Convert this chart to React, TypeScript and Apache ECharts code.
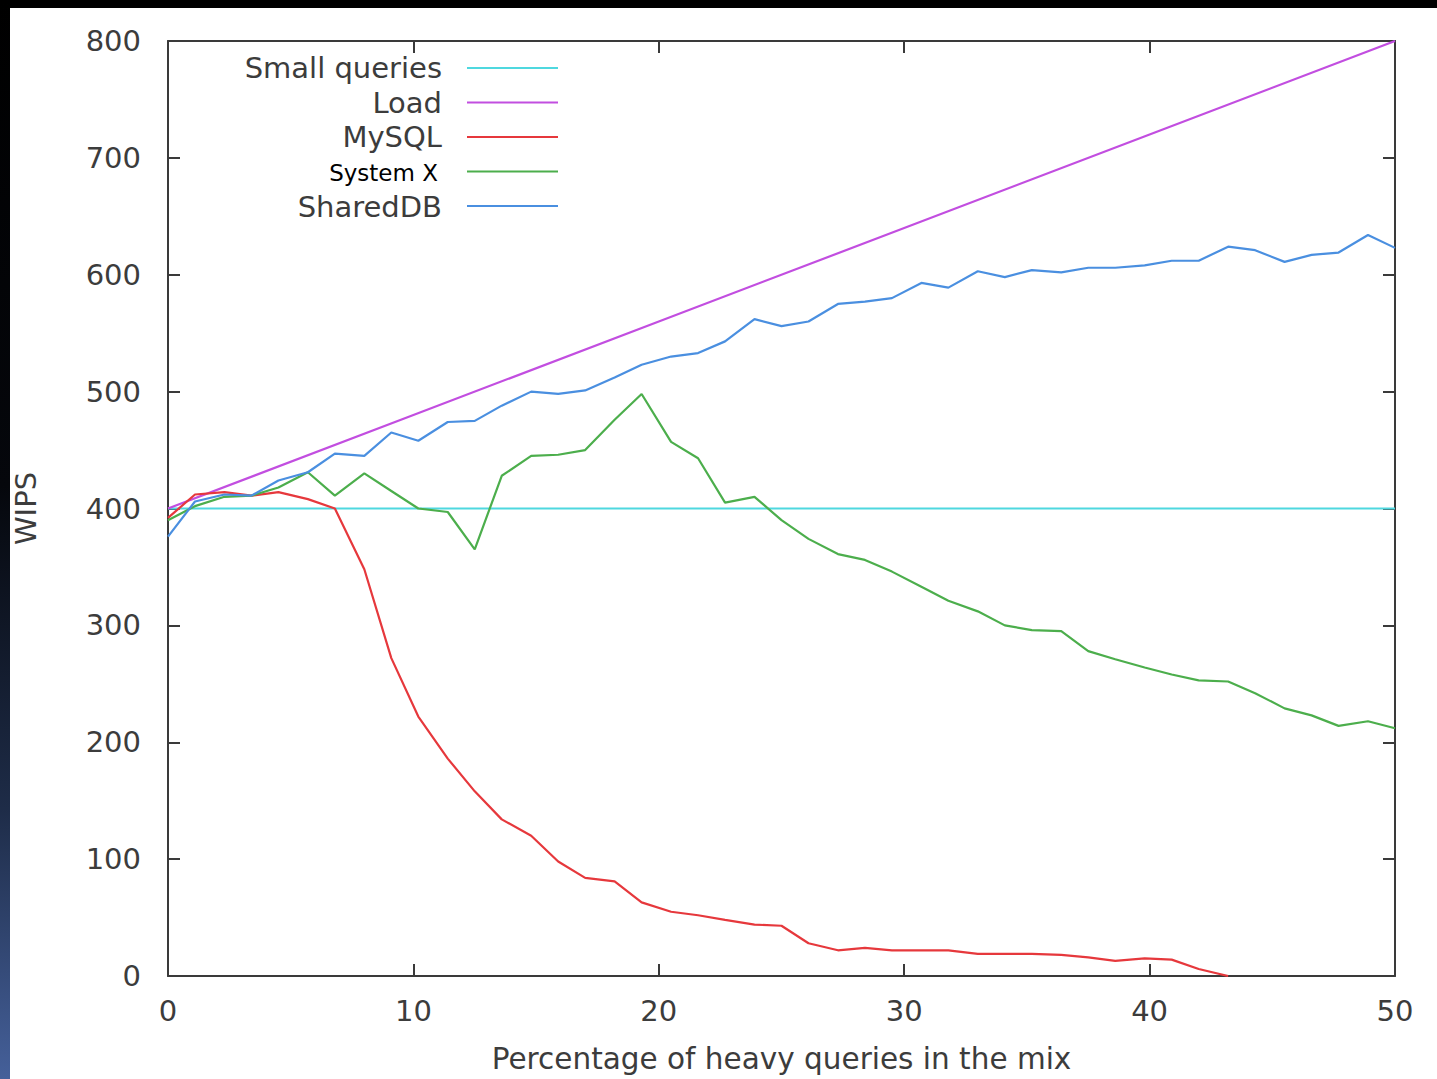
import React, { useEffect, useRef } from "react";
import * as echarts from "echarts";

// x positions (percentage of heavy queries) of measured points
const xs = [
  0, 1.1, 2.3, 3.4, 4.5, 5.7, 6.8, 8.0, 9.1, 10.2, 11.4, 12.5, 13.6, 14.8, 15.9,
  17.0, 18.2, 19.3, 20.5, 21.6, 22.7, 23.9, 25.0, 26.1, 27.3, 28.4, 29.5, 30.7,
  31.8, 33.0, 34.1, 35.2, 36.4, 37.5, 38.6, 39.8, 40.9, 42.0, 43.2, 44.3, 45.5,
  46.6, 47.7, 48.9, 50.0,
];

const sharedDB = [
  376, 406, 412, 411, 424, 431, 447, 445, 465, 458, 474, 475, 488, 500, 498,
  501, 512, 523, 530, 533, 543, 562, 556, 560, 575, 577, 580, 593, 589, 603,
  598, 604, 602, 606, 606, 608, 612, 612, 624, 621, 611, 617, 619, 634, 623,
];

const systemX = [
  390, 402, 410, 411, 418, 431, 411, 430, 415, 400, 397, 365, 428, 445, 446,
  450, 476, 498, 457, 443, 405, 410, 390, 374, 361, 356, 346, 333, 321, 312,
  300, 296, 295, 278, 271, 264, 258, 253, 252, 242, 229, 223, 214, 218, 212,
];

const mysql = [
  392, 412, 414, 411, 414, 408, 400, 348, 272, 222, 186, 158, 134, 120, 98,
  84, 81, 63, 55, 52, 48, 44, 43, 28, 22, 24, 22, 22, 22, 19, 19, 19, 18, 16,
  13, 15, 14, 6, 0,
];

const loadX = [0, 10, 20, 30, 40, 50];
const loadY = [400, 480, 560, 640, 720, 800];

const smallX = [0, 50];
const smallY = [400, 400];

const xTicks = { min: 0, max: 50, interval: 10 };
const yTicks = { min: 0, max: 800, interval: 100 };

const seriesNames = ["Small queries", "Load", "MySQL", "System X", "SharedDB"];
const seriesColors = ["#4fd8df", "#c24ee0", "#e6383c", "#4cae4c", "#4a8fe0"];

const zip = (x: number[], y: number[]) => y.map((v, i) => [x[i], v]);

export default function App() {
  const ref = useRef<HTMLDivElement>(null);

  useEffect(() => {
    if (!ref.current) return;
    const chart = echarts.init(ref.current, null, { renderer: "svg" });
    const font = "DejaVu Sans";
    const textColor = "#3c3c3c";
    const axisColor = "#3a3a3a";
    const fs = 29;

    const seriesData = [
      zip(smallX, smallY),
      zip(loadX, loadY),
      zip(xs, mysql),
      zip(xs, systemX),
      zip(xs, sharedDB),
    ];

    const legendRows = [68, 102.5, 137, 171.5, 206];
    const legendGraphics: any[] = [];
    seriesNames.forEach((name, i) => {
      if (name === "System X") {
        legendGraphics.push({
          type: "text",
          x: 438,
          y: 173,
          z: 101,
          style: {
            text: name,
            align: "right",
            verticalAlign: "middle",
            font: '23px "DejaVu Sans"',
            fill: "#000000",
          },
        });
      } else {
        legendGraphics.push({
          type: "text",
          x: 442,
          y: name === "SharedDB" ? 207 : legendRows[i],
          z: 101,
          style: {
            text: name,
            align: "right",
            verticalAlign: "middle",
            font: `${fs}px "${font}"`,
            fill: textColor,
          },
        });
      }
      legendGraphics.push({
        type: "line",
        z: 101,
        shape: { x1: 467, y1: legendRows[i], x2: 558, y2: legendRows[i] },
        style: { stroke: seriesColors[i], lineWidth: 2.2 },
      });
    });

    const commonAxisLine = {
      show: true,
      onZero: false,
      lineStyle: { color: axisColor, width: 2 },
    };
    const commonTick = {
      show: true,
      inside: true,
      length: 12,
      lineStyle: { color: axisColor, width: 2 },
    };

    chart.setOption({
      animation: false,
      backgroundColor: "#ffffff",
      textStyle: { fontFamily: font },
      grid: { left: 168, right: 42, top: 41, bottom: 101, containLabel: false },
      xAxis: [
        {
          type: "value",
          position: "bottom",
          ...xTicks,
          axisLine: commonAxisLine,
          axisTick: commonTick,
          splitLine: { show: false },
          axisLabel: {
            fontSize: fs,
            color: textColor,
            margin: 20,
            fontFamily: font,
          },
          name: "Percentage of heavy queries in the mix",
          nameLocation: "middle",
          nameGap: 68,
          nameTextStyle: { fontSize: 29.5, color: textColor, fontFamily: font },
        },
        {
          type: "value",
          position: "top",
          ...xTicks,
          axisLine: commonAxisLine,
          axisTick: commonTick,
          splitLine: { show: false },
          axisLabel: { show: false },
        },
      ],
      yAxis: [
        {
          type: "value",
          position: "left",
          ...yTicks,
          axisLine: commonAxisLine,
          axisTick: commonTick,
          splitLine: { show: false },
          axisLabel: {
            fontSize: fs,
            color: textColor,
            margin: 27,
            fontFamily: font,
          },
          name: "WIPS",
          nameLocation: "middle",
          nameGap: 128,
          nameTextStyle: { fontSize: fs, color: textColor, fontFamily: font },
        },
        {
          type: "value",
          position: "right",
          ...yTicks,
          axisLine: commonAxisLine,
          axisTick: commonTick,
          splitLine: { show: false },
          axisLabel: { show: false },
        },
      ],
      graphic: [
        {
          type: "rect",
          shape: { x: 0, y: 0, width: 1437, height: 8 },
          style: { fill: "#000000" },
          z: 200,
        },
        {
          type: "rect",
          shape: { x: 0, y: 0, width: 10, height: 1079 },
          style: {
            fill: new echarts.graphic.LinearGradient(0, 0, 0, 1, [
              { offset: 0, color: "#000000" },
              { offset: 0.45, color: "#05070c" },
              { offset: 0.75, color: "#1e2c48" },
              { offset: 1, color: "#45609a" },
            ]),
          },
          z: 200,
        },
        ...legendGraphics,
      ],
      series: seriesNames.map((name, i) => ({
        name,
        type: "line",
        xAxisIndex: 0,
        yAxisIndex: 0,
        data: seriesData[i],
        showSymbol: false,
        symbol: "none",
        lineStyle: { color: seriesColors[i], width: 2.2 },
        itemStyle: { color: seriesColors[i] },
        z: 2 + i,
      })),
    });

    return () => chart.dispose();
  }, []);

  return (
    <div
      ref={ref}
      style={{
        position: "fixed",
        left: 0,
        top: 0,
        width: 1437,
        height: 1079,
      }}
    />
  );
}
